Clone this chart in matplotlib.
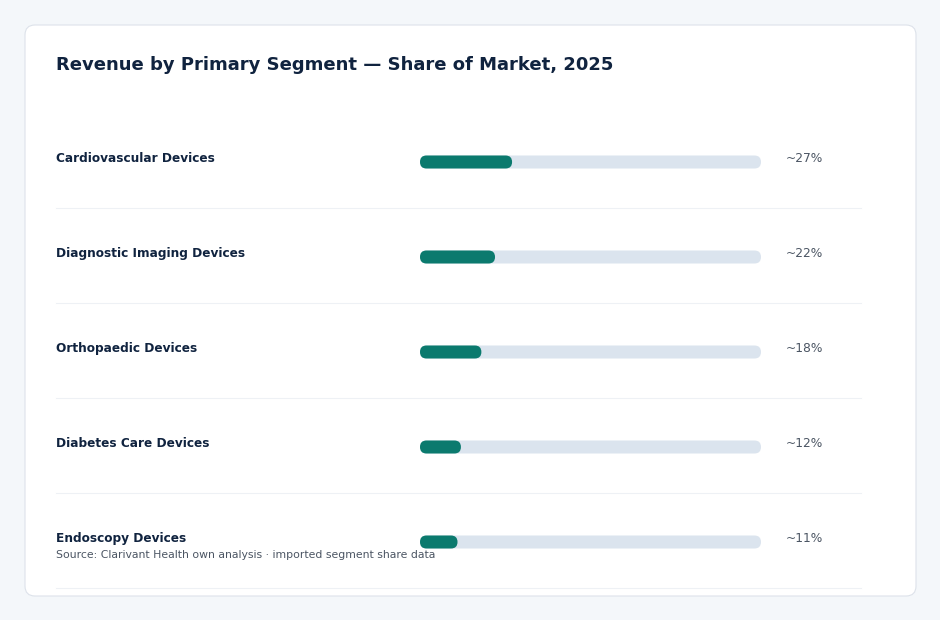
import matplotlib.pyplot as plt
from matplotlib.patches import FancyBboxPatch

# data
segments = [
    "Cardiovascular Devices",
    "Diagnostic Imaging Devices",
    "Orthopaedic Devices",
    "Diabetes Care Devices",
    "Endoscopy Devices",
]
shares = [27, 22, 18, 12, 11]
share_labels = ["~27%", "~22%", "~18%", "~12%", "~11%"]

title = "Revenue by Primary Segment \u2014 Share of Market, 2025"
source = "Source: Clarivant Health own analysis \u00b7 imported segment share data"

# colours
BG = "#f4f7fa"
CARD = "#ffffff"
BORDER = "#dde2ea"
NAVY = "#10233f"
TEAL = "#0b7a6e"
TRACK = "#dbe4ee"
GREY = "#4b5563"
SEP = "#eef1f5"

W, H = 940, 620
fig = plt.figure(figsize=(W / 100, H / 100), dpi=100, facecolor=BG)
ax = fig.add_axes([0, 0, 1, 1])
ax.set_xlim(0, W)
ax.set_ylim(H, 0)
ax.axis("off")

# card
ax.add_patch(FancyBboxPatch((25, 25), 891, 571,
                            boxstyle="round,pad=0,rounding_size=10",
                            fc=CARD, ec=BORDER, lw=0.8))

ax.text(56, 65, title, fontsize=13, fontweight="bold", color=NAVY,
        ha="left", va="center")

track_x0, track_w = 420, 341
bar_h = 13
row0, row_step = 157, 95

for i, (seg, val, lab) in enumerate(zip(segments, shares, share_labels)):
    yc = row0 + i * row_step
    ax.text(56, yc + 1.5, seg, fontsize=8.7, fontweight="bold", color=NAVY,
            ha="left", va="center")
    by = yc + 5
    ax.add_patch(FancyBboxPatch((track_x0, by - bar_h / 2), track_w, bar_h,
                                boxstyle="round,pad=0,rounding_size=6.5",
                                fc=TRACK, ec="none"))
    ax.add_patch(FancyBboxPatch((track_x0, by - bar_h / 2), track_w * val / 100, bar_h,
                                boxstyle="round,pad=0,rounding_size=6.5",
                                fc=TEAL, ec="none"))
    ax.text(786, yc + 1.5, lab, fontsize=8.8, color=GREY, ha="left", va="center")
    sy = yc + 51
    ax.plot([56, 861], [sy, sy], color=SEP, lw=0.8)

ax.text(56, 555, source, fontsize=7.85, color=GREY, ha="left", va="center")

fig.savefig("out.png", dpi=100, facecolor=BG)
